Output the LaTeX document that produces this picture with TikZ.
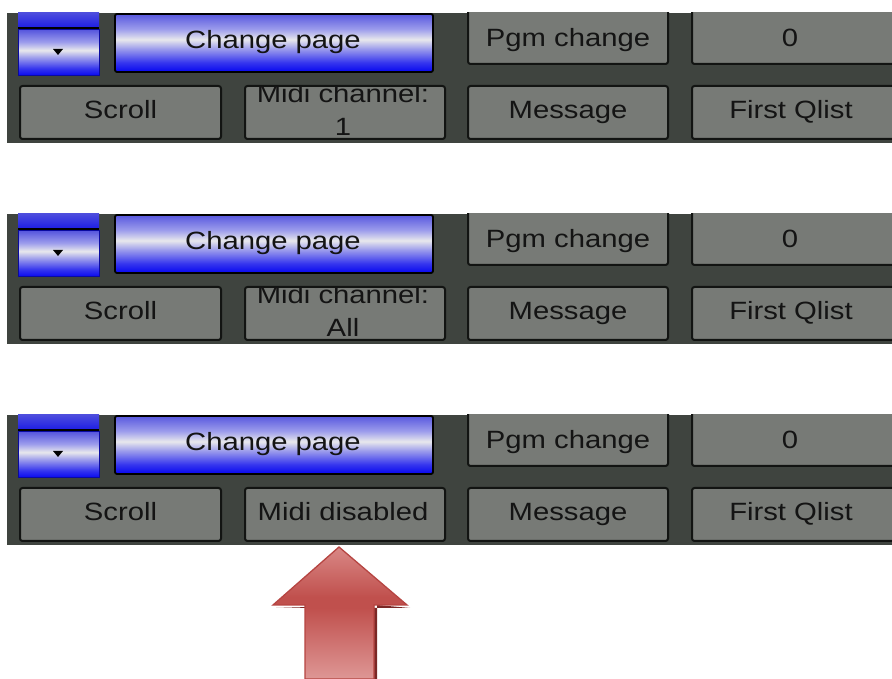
\documentclass[tikz,border=0pt]{standalone}
\usepackage{fontspec}
\setmainfont{Liberation Sans}[FakeStretch=1.17]

% panel colours
\definecolor{panelbg}{HTML}{3F443F}
\definecolor{btngrey}{HTML}{777A76}
\definecolor{btnedge}{HTML}{121412}
\definecolor{btntext}{HTML}{141414}
% glossy blue button colours
\definecolor{blueA}{HTML}{0606F0}
\definecolor{blueB}{HTML}{3434EE}
\definecolor{blueC}{HTML}{9C9CEC}
\definecolor{blueW}{HTML}{E8E8EC}
\definecolor{blueD}{HTML}{5858DE}
\definecolor{selTop}{HTML}{5252DC}
\definecolor{selBot}{HTML}{2020E4}
\definecolor{selEdge}{HTML}{0A0AA0}
% red arrow colours
\definecolor{arrLight}{HTML}{DE9795}
\definecolor{arrMid}{HTML}{C0504D}
\definecolor{arrTop}{HTML}{D98886}
\definecolor{arrEdge}{HTML}{B64542}
\definecolor{arrShadow}{HTML}{7A2826}

\pgfdeclareverticalshading{bluegloss}{100bp}{%
  color(0bp)=(blueA); color(25bp)=(blueA); color(33bp)=(blueB);
  color(45bp)=(blueC); color(53bp)=(blueW); color(62bp)=(blueC);
  color(75bp)=(blueD); color(100bp)=(blueD)}

\pgfdeclareverticalshading{redgloss}{100bp}{%
  color(0bp)=(arrLight); color(25bp)=(arrLight); color(52bp)=(arrMid);
  color(56bp)=(arrMid); color(75bp)=(arrTop); color(100bp)=(arrTop)}

% one strip of the control panel: #1 = top edge (pt), #2 = name prefix,
% #3 = label nodes of the MIDI button
\newcommand\uistrip[3]{%
  \begin{scope}[shift={(0,#1)}]
    \fill[panelbg] (7,0) rectangle (892,-130);
    \begin{scope}
      \clip (7,0) rectangle (892,-130);
      % page selector (arrow button)
      \shade[top color=selTop, bottom color=selBot] (18,2) rectangle (99,-14);
      \fill[black] (18,-14) rectangle (99,-17);
      \shade[shading=bluegloss, draw=selEdge, line width=1pt] (18,-17) rectangle (99,-63);
      \fill[black] (53,-36) -- (63,-36) -- (58,-42) -- cycle;
      % top row
      \shade[bluebtn] (115,-1) rectangle (433,-59);
      \draw[greybtn] (468,10) rectangle (668,-51);
      \draw[greybtn] (692,10) rectangle (910,-51);
      % bottom row
      \draw[greybtn] (20,-73) rectangle (221,-126);
      \draw[greybtn] (245,-73) rectangle (445,-126);
      \draw[greybtn] (468,-73) rectangle (668,-126);
      \draw[greybtn] (692,-73) rectangle (910,-126);
      % labels
      \node[btnlabel] (#2-page) at (273,-36) {Change page};
      \node[btnlabel] (#2-pgm) at (568,-34) {Pgm change};
      \node[btnlabel] (#2-val) at (790,-34) {0};
      \node[btnlabel] (#2-scroll) at (120.5,-106) {Scroll};
      \node[btnlabel] (#2-msg) at (568,-106) {Message};
      \node[btnlabel] (#2-qlist) at (791,-106) {First Qlist};
      \begin{scope}
        \clip (246,-74) rectangle (444,-125);
        #3
      \end{scope}
    \end{scope}
  \end{scope}}

\begin{document}
\begin{tikzpicture}[x=1pt,y=1pt,
  greybtn/.style={fill=btngrey, draw=btnedge, line width=2pt, rounded corners=2.5pt},
  bluebtn/.style={shading=bluegloss, draw=black, line width=1.8pt, rounded corners=2pt},
  btnlabel/.style={text=btntext, font=\fontsize{25}{28}\selectfont, anchor=base, inner sep=0pt},
]
\useasboundingbox[fill=white] (0,0) rectangle (892,679);

\uistrip{666}{s1}{%
  \node[btnlabel] (s1-midi-a) at (343,-90) {Midi channel:};
  \node[btnlabel] (s1-midi-b) at (343,-123) {1};}
\uistrip{465}{s2}{%
  \node[btnlabel] (s2-midi-a) at (343,-90) {Midi channel:};
  \node[btnlabel] (s2-midi-b) at (343,-123) {All};}
\uistrip{264}{s3}{%
  \node[btnlabel] (s3-midi) at (343,-106) {Midi disabled};}

% block arrow pointing at the MIDI button
\fill[arrShadow] (276,71) -- (410,71) -- (377,74) -- (377,0) -- (374,0) -- (374,74) -- cycle;
\shade[shading=redgloss, draw=arrEdge, line width=1.3pt, line join=miter]
  (339,132) -- (407,74) -- (374,74) -- (374,0) -- (305,0) -- (305,74) -- (273,74) -- cycle;
\end{tikzpicture}
\end{document}
